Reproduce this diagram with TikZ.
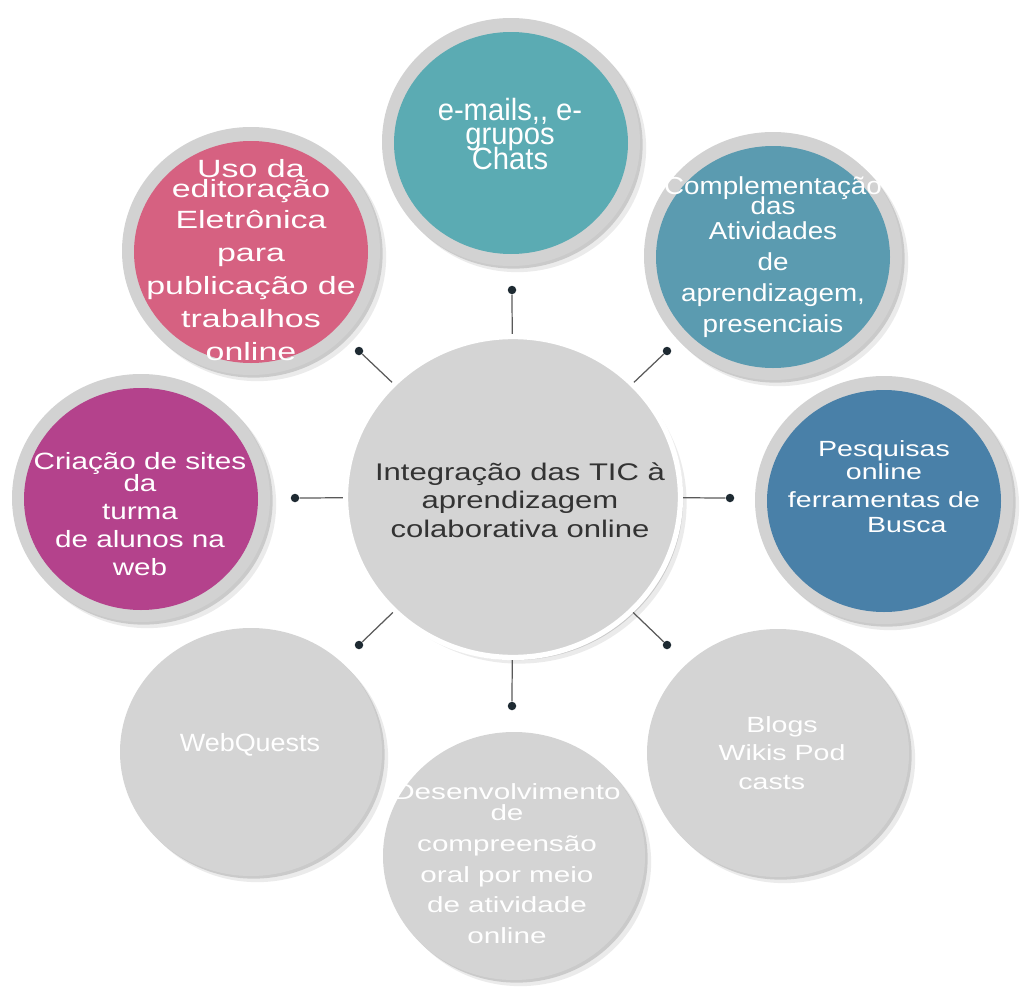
\documentclass[tikz,border=0pt]{standalone}
\usepackage{fontspec}
\setmainfont{Liberation Sans}
\usetikzlibrary{shapes.geometric,shadows}

\definecolor{ringgray}{HTML}{D2D2D2}
\definecolor{plaingray}{HTML}{D4D4D4}
\definecolor{tealtop}{HTML}{5BABB3}
\definecolor{tealright}{HTML}{5B9BB0}
\definecolor{steel}{HTML}{4980A8}
\definecolor{rose}{HTML}{D66181}
\definecolor{plum}{HTML}{B4428C}
\definecolor{ink}{HTML}{333333}
\definecolor{pincolor}{HTML}{1E2A32}

\tikzset{
  soft/.style={drop shadow={shadow xshift=1.5pt,shadow yshift=-1.5pt,opacity=.14,fill=black},
               drop shadow={shadow xshift=3.5pt,shadow yshift=-3.5pt,opacity=.08,fill=black}},
  ring/.style={fill=ringgray,soft},
  bubble/.style={fill=plaingray,soft},
  hubnode/.style={ellipse,inner sep=0pt,minimum width=6.7cm,minimum height=6.42cm,
                  fill=plaingray,draw=white,line width=3pt,soft},
  pin/.style={circle,inner sep=0pt,minimum size=0.17cm,fill=pincolor},
  link/.style={draw=black!65,line width=0.7pt},
  txt/.style n args={3}{align=center,text=white,inner sep=0pt,xscale=#2,
                        font={\fontsize{#1}{#3}\selectfont\lineskiplimit=-50pt}},
}

\begin{document}
\begin{tikzpicture}[x=0.02cm,y=-0.02cm]
\useasboundingbox (0,0) rectangle (1025,987);

\foreach \x/\y in {251/752, 514/856, 778/753}
  \fill[bubble] (\x,\y) ellipse (131 and 124);
\foreach \x/\y/\c in {511/142/tealtop, 251/251/rose, 773/256/tealright, 141/498/plum, 884/500/steel} {
  \fill[ring] (\x,\y) ellipse (129 and 124);
  \fill[\c] (\x,\y+1) ellipse (117 and 111);
}

\node[hubnode] (hub) at (513,497) {};
\foreach \p/\x/\y in {n/512/290, s/512/706, w/295/498, e/730/498,
                      nw/359/351, ne/667/351, sw/359/645, se/667/645}
  \node[pin] (d-\p) at (\x,\y) {};
\foreach \p in {n,s,w,e,nw,ne,sw,se}
  \draw[link] (hub) -- (d-\p);

\node[txt={13.7}{1.29}{16.2},text=ink] (t-hub) at (520,500)
  {Integração das TIC à\\aprendizagem\\colaborativa online};
\node[txt={17.5}{0.95}{14}] (t-mail) at (510,134) {e-mails,{},\ e-\\grupos\\Chats};
\node[txt={14.2}{1.36}{18.8}] (t-edit) at (251,260)
  {Uso da\\[-7pt]editoração\\[-1.2pt]Eletrônica\\para\\publicação de\\trabalhos\\online};
\node[txt={14}{1.13}{17.6}] (t-compl) at (773,257)
  {Complementação\\[-6.2pt]das\\[-3pt]Atividades\\de\\aprendizagem,\\presenciais};
\node[txt={13.4}{1.26}{15.9}] (t-sites) at (140,514)
  {Criação de sites\\[-3.4pt]da\\turma\\de alunos na\\web};
\node[txt={12.5}{1.3}{15.9}] (t-busca) at (884,487)
  {Pesquisas\\[-2.8pt]online\\ferramentas de\\[-1.7pt]\hspace*{20pt}Busca};
\node[txt={14.2}{1.08}{17}] (t-webq) at (250,745) {WebQuests};
\node[txt={12.5}{1.35}{17.6}] (t-oral) at (507,864)
  {Desenvolvimento\\[-6pt]de\\compreensão\\oral por meio\\de atividade\\online};
\node[txt={12.5}{1.3}{16.2}] (t-blogs) at (782,753) {Blogs\\Wikis Pod\\casts\hspace*{9pt}};
\end{tikzpicture}
\end{document}
